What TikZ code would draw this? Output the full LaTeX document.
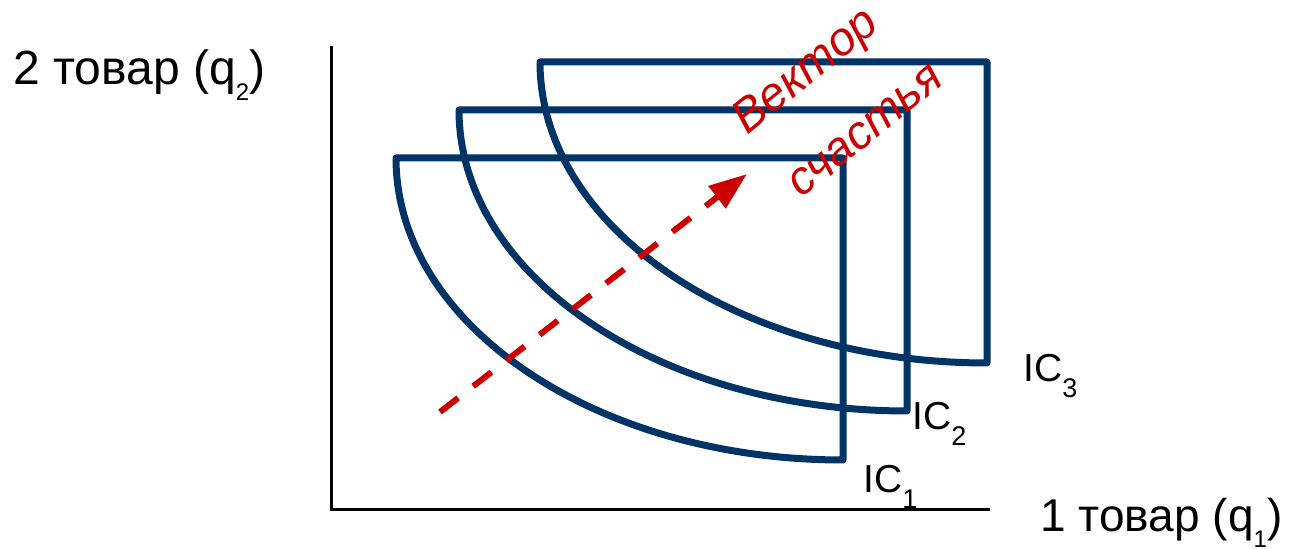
\documentclass[tikz,border=0pt]{standalone}
\usepackage{fontspec}
\setmainfont{Liberation Sans}
\usetikzlibrary{arrows.meta}
\definecolor{navy}{RGB}{0,51,102}
\definecolor{vred}{RGB}{204,0,0}
\newcommand{\qsub}[1]{\raisebox{-8pt}{\fontsize{12pt}{14pt}\selectfont #1}}
\newcommand{\icsub}[1]{\raisebox{-8pt}{\fontsize{13.5pt}{15pt}\selectfont #1}}
\tikzset{
  axis/.style={line width=1.5pt, black},
  curve/.style={line width=3.5pt, navy, line join=round},
  axlabel/.style={font=\fontsize{24pt}{28pt}\selectfont, inner sep=0pt},
  iclabel/.style={font=\fontsize{19.5pt}{23pt}\selectfont, inner sep=0pt, anchor=base west},
  vec/.style={line width=3pt, vred, dash pattern=on 11.5pt off 9.5pt, -{Triangle[length=19pt,width=13.5pt]}},
  vtext/.style={font=\fontsize{23.5pt}{27pt}\selectfont\itshape, text=vred, rotate=39, inner sep=0pt}
}
\begin{document}
\begin{tikzpicture}[x=0.5pt,y=-0.5pt]
\useasboundingbox (0,0) rectangle (1296,549);
% axes
\coordinate (O) at (331,510);
\coordinate (ytop) at (331,46);
\coordinate (xend) at (990,510);
\draw[axis] (ytop) -- (O) -- (xend);
% indifference curves
\def\k{0.5523}
\foreach \L/\T/\R/\B in {396/158/843/460, 459/110/907/411, 540/62/987/363}{
  \pgfmathsetmacro{\cxa}{\R-\k*(\R-\L)}
  \pgfmathsetmacro{\cyb}{\T+\k*(\B-\T)}
  \draw[curve] (\L,\T) -- (\R,\T) -- (\R,\B) .. controls (\cxa,\B) and (\L,\cyb) .. (\L,\T) -- cycle;
}
% vector
\coordinate (vs) at (440,412);
\coordinate (ve) at (747,174);
\draw[vec] (vs) -- (ve);
\node[vtext] (v1) at (807,73) {Вектор};
\node[vtext] (v2) at (866,131) {счастья};
% labels
\node[axlabel, anchor=base west] (ylab) at (13,85) {2 товар (q\qsub{2})};
\node[axlabel, font=\fontsize{23pt}{27pt}\selectfont, anchor=base west] (xlab) at (1040,532) {1 товар (q\qsub{1})};
\node[iclabel] (ic1) at (863,493) {IC\icsub{1}};
\node[iclabel] (ic2) at (912,430) {IC\icsub{2}};
\node[iclabel] (ic3) at (1023,382) {IC\icsub{3}};
\end{tikzpicture}
\end{document}
